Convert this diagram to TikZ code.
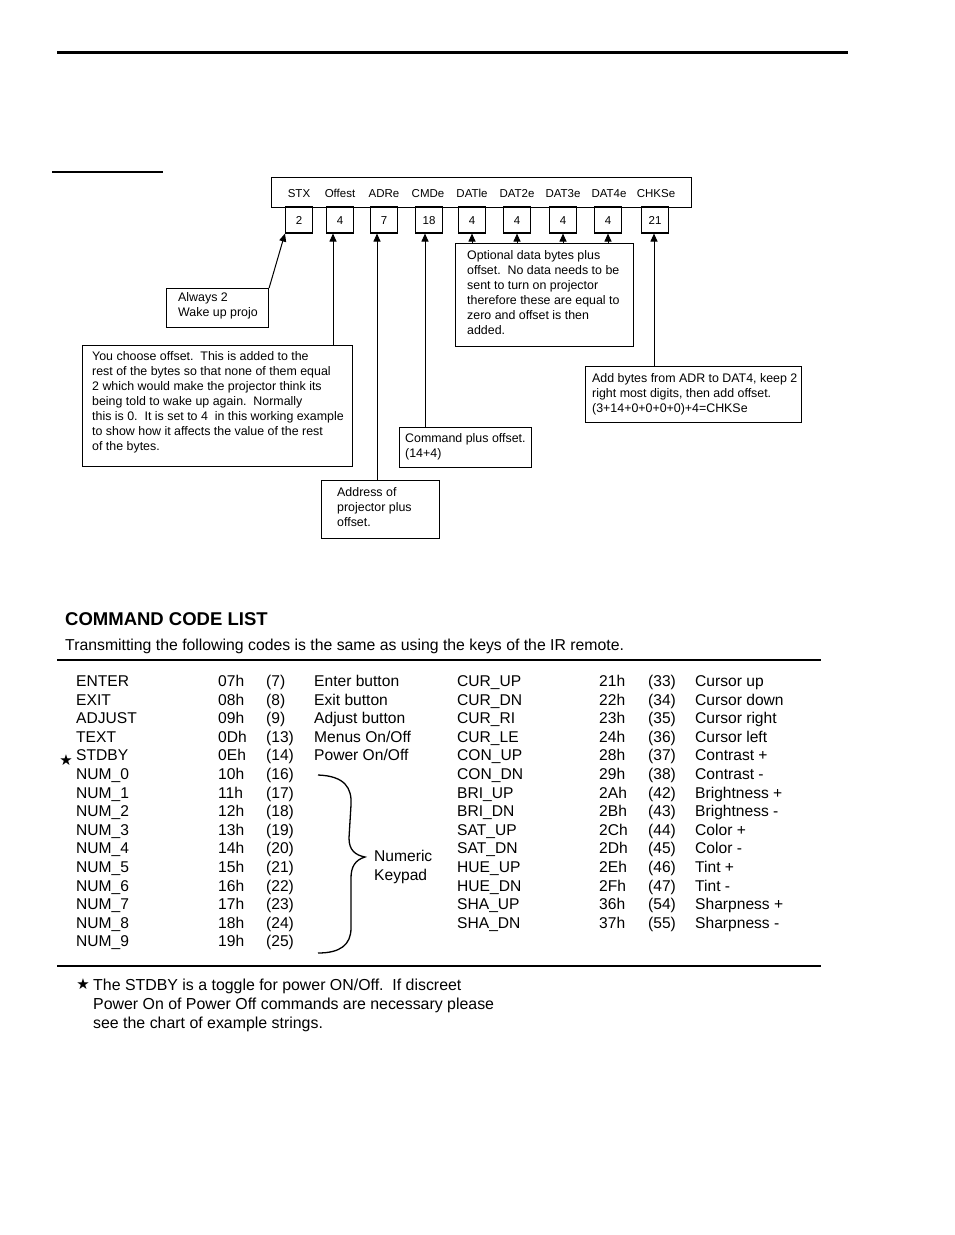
\documentclass[tikz,border=0pt]{standalone}
\usepackage{fontspec}
\setmainfont{Liberation Sans}
\newfontfamily\symfont{DejaVu Sans}
\usetikzlibrary{arrows.meta}
\begin{document}
\begin{tikzpicture}[x=1pt,y=-1pt,
  vbox/.style={draw, line width=1.1pt, minimum width=27, minimum height=26, inner sep=0, text height=8.3pt, text depth=0pt, font=\fontsize{11.5}{13}\selectfont},
  cbox/.style={draw, line width=1.1pt, inner sep=0, anchor=north west},
  ctext/.style={inner sep=0, align=left, font=\fontsize{12.4}{15}\selectfont, anchor=north west},
  hlab/.style={inner sep=0, anchor=base, font=\fontsize{11.5}{13}\selectfont},
  arr/.style={line width=1pt, -{Triangle[length=8pt,width=7pt]}},
  cell/.style={inner sep=0, anchor=base west, font=\fontsize{15.6}{18}\selectfont},
  rulel/.style={line width=2pt},
]
\useasboundingbox (0,0) rectangle (954,1235);

% page rules
\draw[line width=3pt] (57,52) -- (848,52);
\draw[line width=1.2pt] (52,172) -- (163,172);

% header
\node[draw, line width=1.1pt, minimum width=420, minimum height=30, anchor=north west, inner sep=0] (hdr) at (271,177) {};
\foreach \t/\x [count=\i] in {STX/299, Offest/340, ADRe/384, CMDe/428, DATle/472, DAT2e/517, DAT3e/563, DAT4e/609, CHKSe/656}
  \node[hlab] (h\i) at (\x,197.2) {\t};

% value boxes
\foreach \t/\x [count=\i] in {2/299, 4/340, 7/384, 18/429, 4/472, 4/517, 4/563, 4/608, 21/655}
  \node[vbox] (v\i) at (\x,220) {\t};

% callouts
\node[cbox, minimum width=102, minimum height=39] (always) at (166,288) {};
\node[ctext] (alwayst) at (178,292.5) {Always 2\\Wake up projo};

\node[cbox, minimum width=270, minimum height=121] (choose) at (82,345) {};
\node[ctext] (chooset) at (92,351.5) {You choose offset.\ \ This is added to the\\rest of the bytes so that none of them equal\\2 which would make the projector think its\\being told to wake up again.\ \ Normally\\this is 0.\ \ It is set to 4\ \ in this working example\\to show how it affects the value of the rest\\of the bytes.};

\node[cbox, minimum width=178, minimum height=103] (dat) at (455,243) {};
\node[ctext] (datt) at (467,250.5) {Optional data bytes plus\\offset.\ \ No data needs to be\\sent to turn on projector\\therefore these are equal to\\zero and offset is then\\added.};

\node[cbox, minimum width=216, minimum height=56] (chk) at (585,366) {};
\node[ctext] (chkt) at (592,373.5) {Add bytes from ADR to DAT4, keep 2\\right most digits, then add offset.\\(3+14+0+0+0+0)+4=CHKSe};

\node[cbox, minimum width=132, minimum height=40] (cmd) at (399,427) {};
\node[ctext] (cmdt) at (405,433.5) {Command plus offset.\\(14+4)};

\node[cbox, minimum width=118, minimum height=58] (addr) at (321,480) {};
\node[ctext] (addrt) at (337,487.5) {Address of\\projector plus\\offset.};

% connectors
\draw[arr] (always.north east) -- (v1.south west);
\draw[arr] ([xshift=-7pt]v2.south |- choose.north) -- ([xshift=-7pt]v2.south);
\draw[arr] ([xshift=-7pt]v3.south |- addr.north) -- ([xshift=-7pt]v3.south);
\draw[arr] ([xshift=-4pt]v4.south |- cmd.north) -- ([xshift=-4pt]v4.south);
\foreach \i in {5,6,7,8}
  \draw[arr] (v\i.south |- dat.north) -- (v\i.south);
\draw[arr] ([xshift=-1pt]v9.south |- chk.north) -- ([xshift=-1pt]v9.south);

% command code list
\node[inner sep=0, anchor=base west, font=\fontsize{18.5}{22}\selectfont\bfseries] (title) at (65,625.5) {COMMAND CODE LIST};
\node[inner sep=0, anchor=base west, font=\fontsize{15.8}{17}\selectfont] (sub) at (65,650.5) {Transmitting the following codes is the same as using the keys of the IR remote.};
\draw[rulel] (57,660) -- (821,660);
\draw[rulel] (57,966) -- (821,966);

\foreach \n/\h/\d [count=\i from 0] in {ENTER/07h/7, EXIT/08h/8, ADJUST/09h/9, TEXT/0Dh/13, STDBY/0Eh/14, NUM\_0/10h/16, NUM\_1/11h/17, NUM\_2/12h/18, NUM\_3/13h/19, NUM\_4/14h/20, NUM\_5/15h/21, NUM\_6/16h/22, NUM\_7/17h/23, NUM\_8/18h/24, NUM\_9/19h/25}{
  \node[cell] (ln\i) at (76,686.5+18.6*\i) {\n};
  \node[cell] (lh\i) at (218,686.5+18.6*\i) {\h};
  \node[cell] (ld\i) at (266,686.5+18.6*\i) {(\d)};
}
\foreach \e [count=\i from 0] in {Enter button, Exit button, Adjust button, Menus On/Off, Power On/Off}
  \node[cell] (le\i) at (314,686.5+18.6*\i) {\e};

\foreach \n/\h/\d/\e [count=\i from 0] in {CUR\_UP/21h/33/Cursor up, CUR\_DN/22h/34/Cursor down, CUR\_RI/23h/35/Cursor right, CUR\_LE/24h/36/Cursor left, CON\_UP/28h/37/Contrast +, CON\_DN/29h/38/Contrast -, BRI\_UP/2Ah/42/Brightness +, BRI\_DN/2Bh/43/Brightness -, SAT\_UP/2Ch/44/Color +, SAT\_DN/2Dh/45/Color -, HUE\_UP/2Eh/46/Tint +, HUE\_DN/2Fh/47/Tint -, SHA\_UP/36h/54/Sharpness +, SHA\_DN/37h/55/Sharpness -}{
  \node[cell] (rn\i) at (457,686.5+18.6*\i) {\n};
  \node[cell] (rh\i) at (599,686.5+18.6*\i) {\h};
  \node[cell] (rd\i) at (648,686.5+18.6*\i) {(\d)};
  \node[cell] (re\i) at (695,686.5+18.6*\i) {\e};
}

\node[inner sep=0, font=\symfont\fontsize{15}{15}\selectfont] (star1) at (66,760) {★};

% brace
\draw[line width=1.3pt] (318,775) .. controls (345,776) and (352,788) .. (351,805)
  -- (349,838) .. controls (349,850) and (355,855) .. (365,857)
  .. controls (355,860) and (351,867) .. (351,878)
  -- (351,928) .. controls (351,945) and (340,953) .. (318,953);
\node[cell] (num) at (374,861) {Numeric};
\node[cell] (key) at (374,880) {Keypad};

% footnote
\node[inner sep=0, font=\symfont\fontsize{15}{15}\selectfont] (star2) at (83,984) {★};
\node[inner sep=0, anchor=north west, align=left, font=\fontsize{15.9}{19}\selectfont] (foot) at (93,979) {The STDBY is a toggle for power ON/Off.\ \ If discreet\\Power On of Power Off commands are necessary please\\see the chart of example strings.};
\end{tikzpicture}
\end{document}
